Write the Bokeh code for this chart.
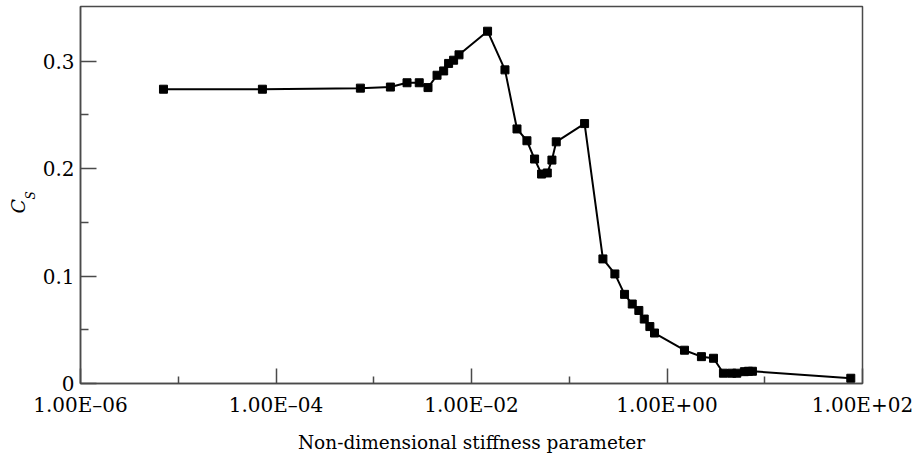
from bokeh.plotting import figure
from bokeh.models import FixedTicker, Range1d, Title
from bokeh.embed import file_html
from bokeh.resources import INLINE

# ---- data ----
stiffness = [7.06e-6, 7.26e-5, 7.30e-4, 1.48e-3, 2.19e-3, 2.92e-3, 3.59e-3,
             4.44e-3, 5.19e-3, 5.83e-3, 6.56e-3, 7.45e-3, 1.46e-2, 2.20e-2,
             2.92e-2, 3.69e-2, 4.42e-2, 5.21e-2, 5.96e-2, 6.65e-2, 7.36e-2,
             0.1435, 0.221, 0.293, 0.368, 0.441, 0.515, 0.585, 0.668, 0.745,
             1.51, 2.25, 2.99, 3.78, 4.60, 5.18, 6.19, 6.81, 7.48, 75.9]
cs = [0.274, 0.274, 0.275, 0.276, 0.280, 0.280, 0.2755,
      0.287, 0.291, 0.298, 0.301, 0.306, 0.328, 0.292,
      0.237, 0.226, 0.209, 0.195, 0.196, 0.208, 0.225,
      0.242, 0.116, 0.102, 0.083, 0.074, 0.068, 0.060, 0.053, 0.047,
      0.031, 0.025, 0.0235, 0.0096, 0.0096, 0.0096, 0.011, 0.0114, 0.0114, 0.0049]

x_major = [1e-6, 1e-4, 1e-2, 1e0, 1e2]
x_minor = [1e-5, 1e-3, 1e-1, 1e1]
x_labels = ["1.00E\u201306", "1.00E\u201304", "1.00E\u201302", "1.00E+00", "1.00E+02"]
y_major = [0, 0.1, 0.2, 0.3]
y_minor = [0.05, 0.15, 0.25]
y_labels = ["0", "0.1", "0.2", "0.3"]
x_title = "Non-dimensional stiffness parameter"
y_title_main = "C"
y_title_sub = "S"

FONT = "DejaVu Serif"
AX = "#4a4a4a"

p = figure(width=914, height=455, x_axis_type="log",
           x_range=Range1d(1e-6, 1e2), y_range=Range1d(0, 0.351),
           output_backend="svg", toolbar_location=None,
           min_border_left=80, min_border_right=52,
           min_border_top=6, min_border_bottom=71)
p.background_fill_color = "white"
p.border_fill_color = "white"
p.xgrid.visible = False
p.ygrid.visible = False
p.outline_line_color = AX
p.outline_line_width = 1.5

p.line(stiffness, cs, line_color="black", line_width=2)
p.scatter(stiffness, cs, marker="square", size=8, fill_color="black", line_color="black")

xa = p.xaxis[0]
xa.ticker = FixedTicker(ticks=x_major, minor_ticks=x_minor)
xa.major_label_overrides = {t: s for t, s in zip(x_major, x_labels)}
xa.major_tick_in = 15
xa.major_tick_out = 0
xa.minor_tick_in = 7
xa.minor_tick_out = 0
xa.major_label_standoff = 9
xa.axis_label = x_title
xa.axis_label_standoff = 12
ya = p.yaxis[0]
ya.ticker = FixedTicker(ticks=y_major, minor_ticks=y_minor)
ya.major_label_overrides = {t: s for t, s in zip(y_major, y_labels)}
ya.major_tick_in = 16
ya.major_tick_out = 0
ya.minor_tick_in = 8
ya.minor_tick_out = 0
ya.major_label_standoff = 6

for ax in (xa, ya):
    ax.axis_line_color = AX
    ax.axis_line_width = 1.5
    ax.major_tick_line_color = AX
    ax.major_tick_line_width = 1.5
    ax.minor_tick_line_color = AX
    ax.minor_tick_line_width = 1.5
    ax.major_label_text_font = FONT
    ax.major_label_text_font_size = "20px"
    ax.major_label_text_color = "black"
    ax.axis_label_text_font = FONT
    ax.axis_label_text_font_size = "18.5px"
    ax.axis_label_text_font_style = "normal"
    ax.axis_label_text_color = "black"

# y axis title C_S: subscript S (closer to the axis) and C, as two side titles
p.add_layout(Title(text=y_title_sub, align="left", offset=184, standoff=4,
                   vertical_align="bottom", text_font=FONT, text_font_size="12px",
                   text_font_style="italic", text_color="black"), "left")
p.add_layout(Title(text=y_title_main, align="left", offset=170, standoff=-18,
                   vertical_align="bottom", text_font=FONT, text_font_size="19px",
                   text_font_style="italic", text_color="black"), "left")

open("out.html", "w").write(file_html(p, INLINE))
